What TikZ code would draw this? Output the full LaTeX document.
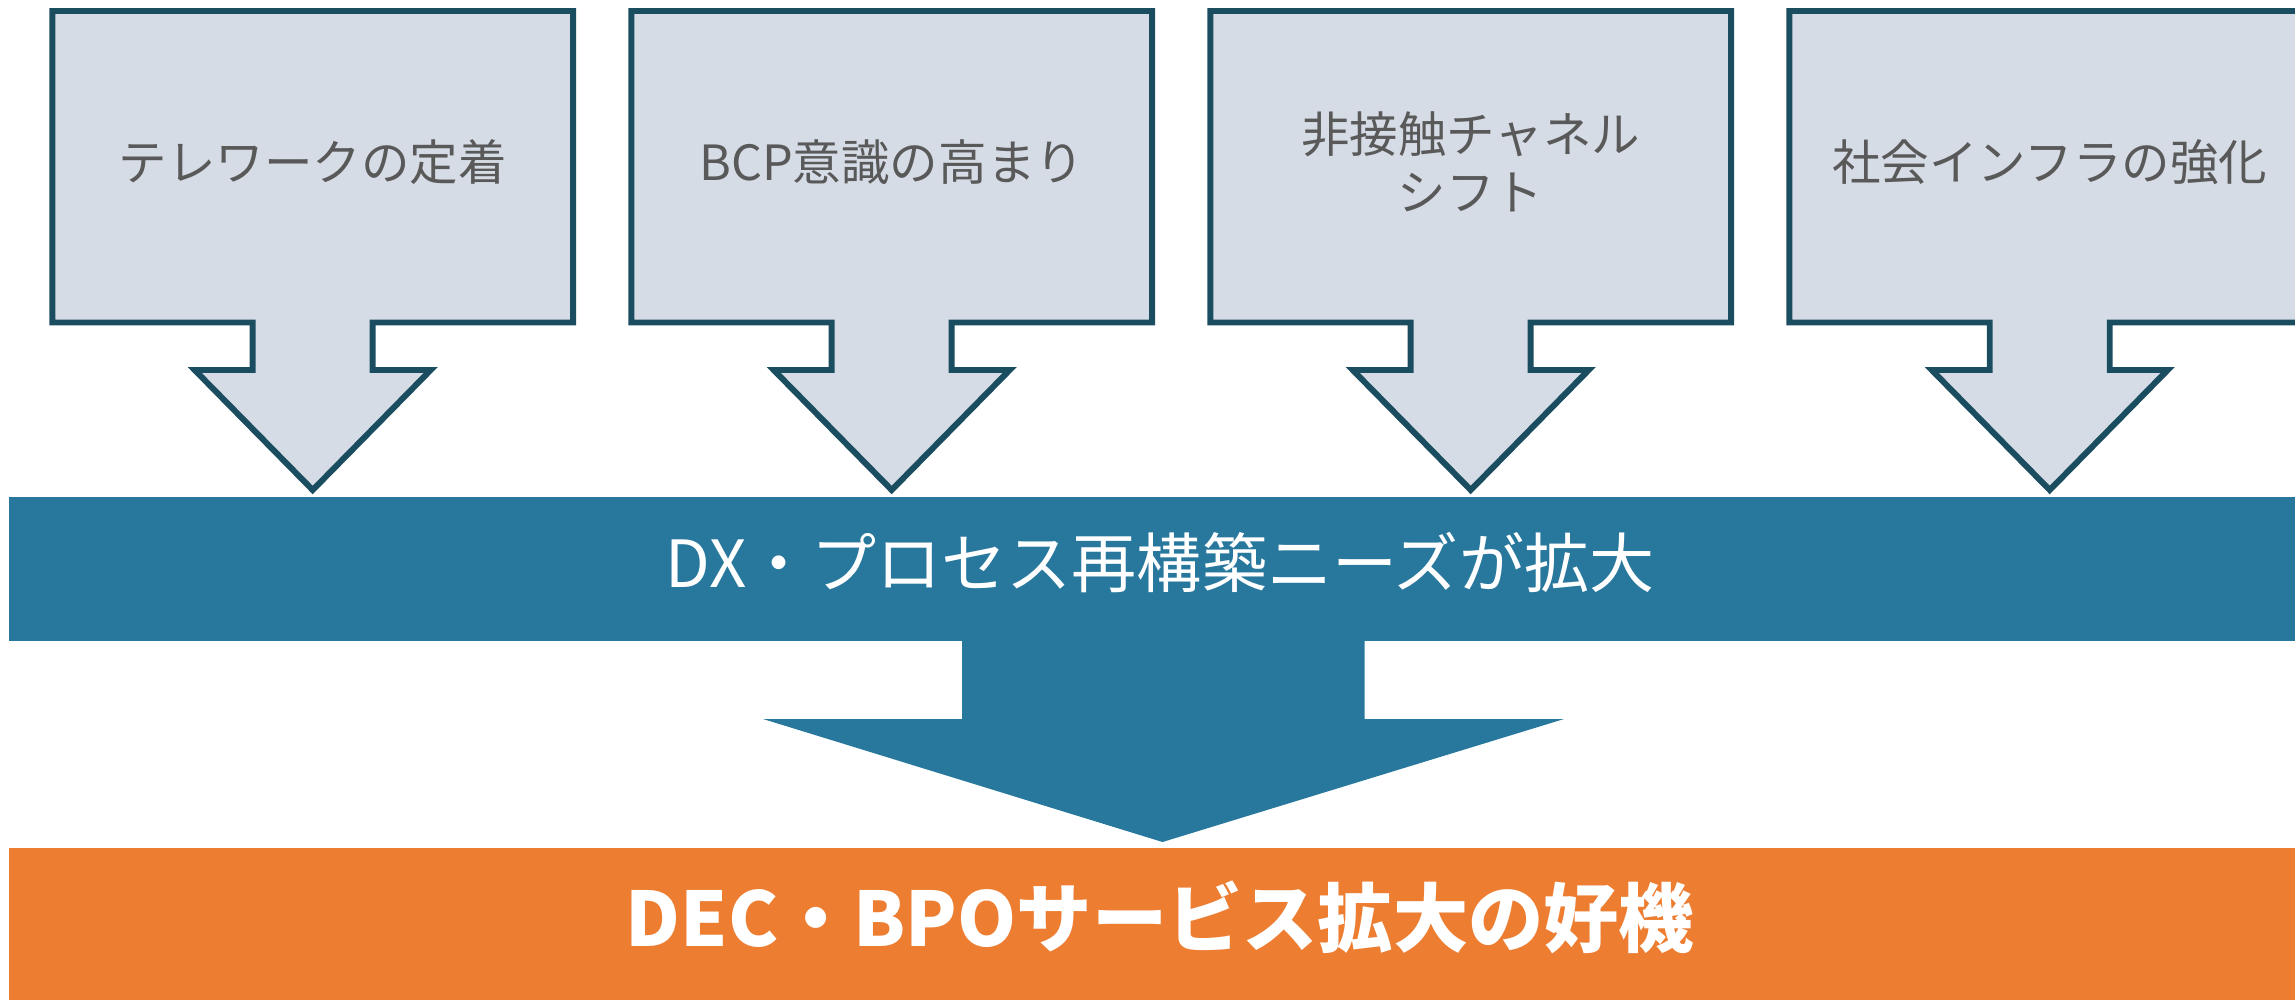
\documentclass[tikz,border=0pt]{standalone}
\usepackage{fontspec}
\setmainfont{Noto Sans CJK JP}
\usetikzlibrary{positioning}
\definecolor{boxfill}{HTML}{D6DCE5}
\definecolor{boxline}{HTML}{1B4D61}
\definecolor{bandblue}{HTML}{28789E}
\definecolor{bandorange}{HTML}{ED7D31}
\definecolor{textgray}{HTML}{595959}

\begin{document}
\begin{tikzpicture}[x=0.01cm, y=-0.01cm,
    callout/.style={draw=boxline, fill=boxfill, line width=1.7pt, line join=miter},
    cause/.style={text=textgray, align=center, font=\fontsize{13.8pt}{16.5pt}\selectfont},
    needs/.style={text=white, font=\fontsize{18.5pt}{22pt}\selectfont},
    chance/.style={text=white, font=\fontsize{21.4pt}{25pt}\selectfont\bfseries}]
\useasboundingbox (0,0) rectangle (2295,1000);

% four causes
\foreach \cx/\lbl [count=\i] in {312.7/テレワークの定着, 891.7/BCP意識の高まり,
    1470.7/{非接触チャネル\\シフト}, 2049.7/社会インフラの強化} {
  \draw[callout] (\cx-260.3,11) -- (\cx+260.3,11) -- (\cx+260.3,322.5)
    -- (\cx+60,322.5) -- (\cx+60,370) -- (\cx+118,370) -- (\cx,490)
    -- (\cx-118,370) -- (\cx-60,370) -- (\cx-60,322.5)
    -- (\cx-260.3,322.5) -- cycle;
  \node[cause] (c\i) at (\cx,162) {\lbl};
}

% blue band and big arrow
\fill[bandblue] (9,497) rectangle (2295,641);
\fill[bandblue] (962,640) -- (1364.5,640) -- (1364.5,719) -- (1564,719)
  -- (1162.5,842) -- (763,719) -- (962,719) -- cycle;
\node[needs] (dx) at (1160,563) {DX・プロセス再構築ニーズが拡大};

% orange band
\fill[bandorange] (9,848) rectangle (2295,1000);
\node[chance] (bpo) at (1160,917) {DEC・BPOサービス拡大の好機};
\end{tikzpicture}
\end{document}
